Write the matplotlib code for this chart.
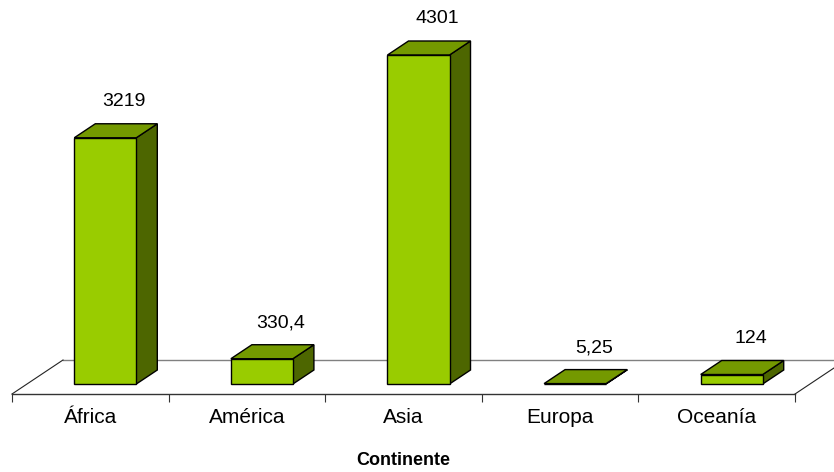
import matplotlib.pyplot as plt
from matplotlib.patches import Polygon

# data
continents = ["África", "América", "Asia", "Europa", "Oceanía"]
values = [3219, 330.4, 4301, 5.25, 124]
value_labels = ["3219", "330,4", "4301", "5,25", "124"]

FRONT = "#99CC00"
TOP = "#749900"
SIDE = "#4D6600"

plt.rcParams["font.family"] = ["Liberation Sans", "DejaVu Sans"]

fig = plt.figure(figsize=(8.34, 4.72), dpi=100)
ax = fig.add_axes([12 / 834, 78 / 472, 783 / 834, 384 / 472])
ax.set_xlim(-0.5, len(continents) - 0.5)
ax.set_ylim(0, 5020)
ax.patch.set_visible(False)

# pixel offsets for the fake 3d look
BAR_DX, BAR_DY = 15, 10      # bar front plane behind floor front edge
DEPTH_DX, DEPTH_DY = 21, 14  # bar depth
FLOOR_DX, FLOOR_DY = 51, 34  # floor depth
W = 0.396


def shift(x, y, dx, dy):
    p = ax.transData.transform((x, y))
    return ax.transData.inverted().transform((p[0] + dx, p[1] + dy))


# floor
x0, x1 = -0.5, len(continents) - 0.5
bl = shift(x0, 0, FLOOR_DX, FLOOR_DY)
br = shift(x1, 0, FLOOR_DX, FLOOR_DY)
ax.add_patch(Polygon([(x0, 0), (x1, 0), br, bl], closed=True,
                     facecolor="white", edgecolor="none", zorder=0))
ax.plot([bl[0], br[0]], [bl[1], br[1]], color="#808080", lw=1.0,
        clip_on=False, zorder=1)
ax.plot([x0, bl[0]], [0, bl[1]], color="#222222", lw=0.8,
        clip_on=False, zorder=1)
ax.plot([x1, br[0]], [0, br[1]], color="#222222", lw=0.8,
        clip_on=False, zorder=1)

# bars
for i, (v, lab) in enumerate(zip(values, value_labels)):
    fl = shift(i - W / 2, 0, BAR_DX, BAR_DY)
    fr = shift(i + W / 2, 0, BAR_DX, BAR_DY)
    tl = shift(i - W / 2, v, BAR_DX, BAR_DY)
    tr = shift(i + W / 2, v, BAR_DX, BAR_DY)
    btl = shift(i - W / 2, v, BAR_DX + DEPTH_DX, BAR_DY + DEPTH_DY)
    btr = shift(i + W / 2, v, BAR_DX + DEPTH_DX, BAR_DY + DEPTH_DY)
    bbr = shift(i + W / 2, 0, BAR_DX + DEPTH_DX, BAR_DY + DEPTH_DY)

    ax.add_patch(Polygon([fr, bbr, btr, tr], closed=True, facecolor=SIDE,
                         edgecolor="black", lw=1.0, zorder=3, clip_on=False))
    ax.add_patch(Polygon([tl, tr, btr, btl], closed=True, facecolor=TOP,
                         edgecolor="black", lw=1.0, zorder=3, clip_on=False))
    ax.add_patch(Polygon([fl, fr, tr, tl], closed=True, facecolor=FRONT,
                         edgecolor="black", lw=1.0, zorder=4, clip_on=False))

    lx, ly = shift(i, v, BAR_DX + 19, BAR_DY + DEPTH_DY + 22)
    ax.text(lx, ly, lab, ha="center", va="center", fontsize=14,
            color="black", zorder=5)

# axis
for s in ["left", "right", "top"]:
    ax.spines[s].set_visible(False)
ax.spines["bottom"].set_color("#333333")
ax.spines["bottom"].set_linewidth(1.0)
ax.set_yticks([])
ax.set_xticks(range(len(continents)))
ax.set_xticklabels(continents, fontsize=15)
ax.tick_params(axis="x", which="major", length=0, pad=10)
ax.set_xticks([k - 0.5 for k in range(len(continents) + 1)], minor=True)
ax.tick_params(axis="x", which="minor", length=6, width=0.8,
               color="#333333", direction="out")
ax.set_xlabel("Continente", fontsize=13, fontweight="bold", labelpad=18)

fig.savefig("out.png", dpi=100, facecolor="white")
